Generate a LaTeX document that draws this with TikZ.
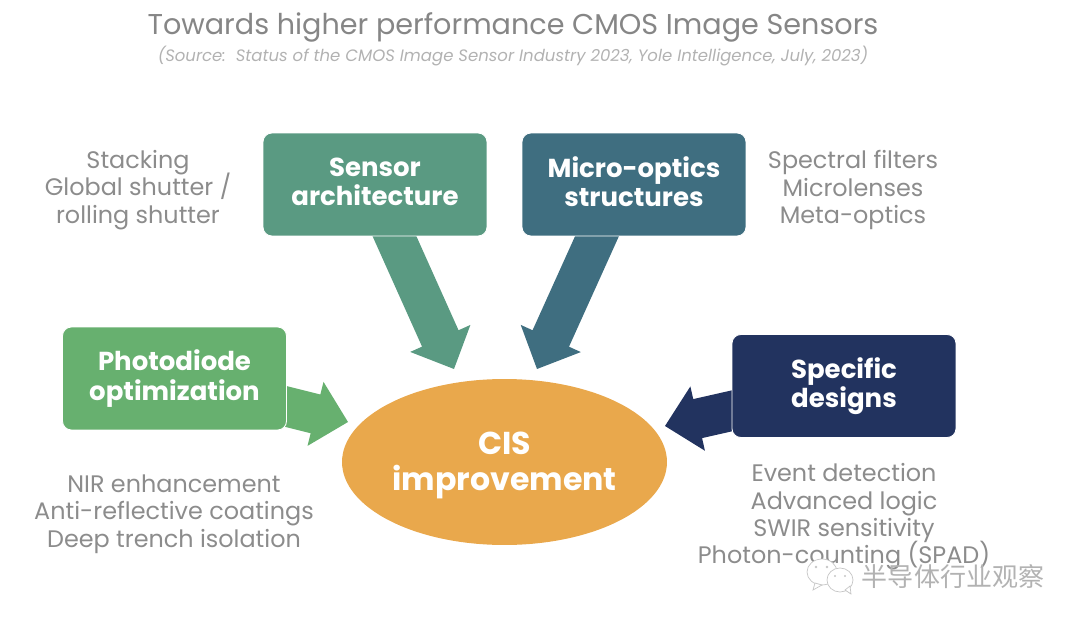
\documentclass[tikz,border=0pt]{standalone}
\usepackage{fontspec}
\setmainfont{Poppins}
\newfontfamily\cjk{Noto Sans CJK SC}
\usetikzlibrary{calc,shapes.geometric}
\definecolor{sensorgreen}{HTML}{5A9A82}
\definecolor{opticsteal}{HTML}{3F6E80}
\definecolor{diodegreen}{HTML}{67B06F}
\definecolor{designnavy}{HTML}{22335F}
\definecolor{cisorange}{HTML}{E9A84C}
\definecolor{notegray}{HTML}{8C8C8C}
\tikzset{
  topicbox/.style={draw=white, line width=0.5pt, rounded corners=5pt, minimum width=4.48cm, minimum height=2.06cm, inner sep=0pt, align=center, text=white, font=\fontsize{14.8}{16.6}\selectfont\bfseries},
  notetext/.style={align=center, text=notegray, inner sep=0pt, font=\fontsize{13.6}{15.6}\selectfont\lineskiplimit-8pt\relax}
}
\newcommand{\blockarrow}[3]{
  \coordinate (neck) at ($(#3)!0.67cm!(#2)$);
  \fill[#1] ($(#2)!0.40cm!90:(#3)$) -- ($(neck)!0.40cm!90:(#3)$) -- ($(neck)!0.66cm!90:(#3)$) -- (#3)
    -- ($(neck)!0.66cm!-90:(#3)$) -- ($(neck)!0.40cm!-90:(#3)$) -- ($(#2)!0.40cm!-90:(#3)$) -- cycle;
}
\begin{document}
\begin{tikzpicture}[x=0.02cm, y=-0.02cm]
  \useasboundingbox (0,0) rectangle (1080,625);
  \node[text=gray!95!white, inner sep=0pt, font=\fontsize{16.3}{18}\selectfont] (title) at (513,27) {Towards higher performance CMOS Image Sensors};
  \node[text=gray!60!white, inner sep=0pt, font=\fontsize{9.4}{11}\selectfont\itshape] (source) at (513,56) {(Source:\ \ Status of the CMOS Image Sensor Industry 2023, Yole Intelligence, July, 2023)};

  \coordinate (sensorfoot) at (389,224);
  \coordinate (sensortip) at (454,369);
  \coordinate (opticsfoot) at (602.5,224);
  \coordinate (opticstip) at (537,369);
  \coordinate (diodefoot) at (278,404.5);
  \coordinate (diodetip) at (348,422);
  \coordinate (designfoot) at (740,409);
  \coordinate (designtip) at (665,426);
  \blockarrow{sensorgreen}{sensorfoot}{sensortip}
  \blockarrow{opticsteal}{opticsfoot}{opticstip}
  \blockarrow{diodegreen}{diodefoot}{diodetip}
  \blockarrow{designnavy}{designfoot}{designtip}

  \node[topicbox, fill=sensorgreen] (sensor) at (375,184.5) {Sensor\\architecture\rule[-3.5pt]{0pt}{1pt}};
  \node[topicbox, fill=opticsteal] (optics) at (634,184.5) {Micro-optics\\structures\rule[-3.5pt]{0pt}{1pt}};
  \node[topicbox, fill=diodegreen] (diode) at (174.5,378.5) {Photodiode\\optimization};
  \node[topicbox, fill=designnavy] (design) at (844,386) {Specific\\designs};
  \node[ellipse, fill=cisorange, minimum width=6.5cm, minimum height=3.32cm, inner sep=0pt, align=center, text=white, font=\fontsize{18}{20.5}\selectfont\bfseries] (cis) at (504.5,462) {\rule{0pt}{17pt}CIS\\improvement};

  \node[notetext] (sensornote) at (138,190) {Stacking\\Global shutter /\\rolling shutter};
  \node[notetext] (opticsnote) at (853,190) {Spectral filters\\Microlenses\\Meta-optics};
  \node[notetext] (diodenote) at (174,514) {NIR enhancement\\Anti-reflective coatings\\Deep trench isolation};
  \node[notetext] (designnote) at (844,517) {Event detection\\Advanced logic\\SWIR sensitivity\\Photon-counting (SPAD)};

  \draw[gray!45, fill=white] (822,572) ellipse (15 and 13);
  \draw[gray!45, fill=white] (815,583) -- (813,590) -- (822,585) -- cycle;
  \fill[gray!45] (816,567) circle (1.4) (827,567) circle (1.4);
  \draw[gray!45, fill=white] (840,580) ellipse (13 and 12);
  \draw[gray!45, fill=white] (845,590) -- (851,594) -- (850,586) -- cycle;
  \fill[gray!45] (835,576) circle (1.2) (845,576) circle (1.2);
  \node[text=gray!60, inner sep=0pt, font=\cjk\fontsize{14.8}{16}\selectfont] (mark) at (953,577) {半导体行业观察};
\end{tikzpicture}
\end{document}
